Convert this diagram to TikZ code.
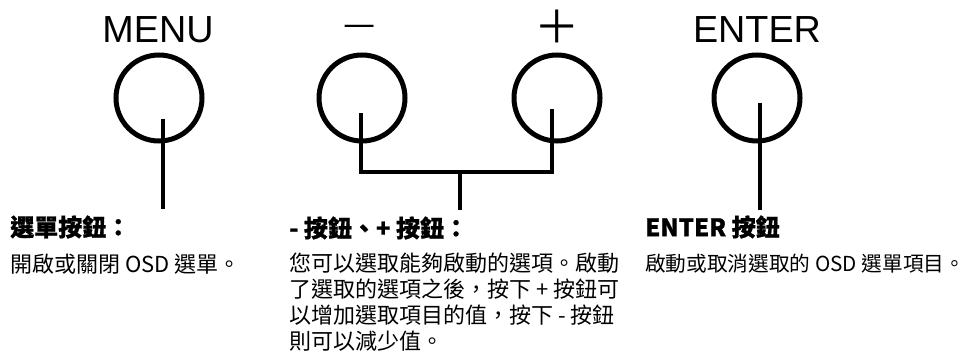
\documentclass[tikz,border=0pt]{standalone}
\usepackage{fontspec}
\setmainfont{Liberation Sans}
\newfontfamily\cjk[BoldFeatures={FakeBold=0.8}]{Noto Sans CJK TC}
\usetikzlibrary{positioning}

\begin{document}
\begin{tikzpicture}
	[x=0.75pt,y=-0.75pt,
	 knob/.style={circle,draw,line width=3.75pt,minimum size=64.5pt,inner sep=0pt},
	 lead/.style={line width=2.3pt},
	 keyname/.style={font=\fontsize{28.3}{30}\selectfont,anchor=base,inner sep=0pt},
	 keysign/.style={font=\cjk\fontsize{27}{30}\selectfont,anchor=base,inner sep=0pt},
	 head/.style={font=\cjk\bfseries\fontsize{18}{20}\selectfont,anchor=west,inner sep=0pt},
	 body/.style={font=\cjk\fontsize{16.5}{19.5}\selectfont,align=left,inner sep=0pt}]

\useasboundingbox (0,0) rectangle (969,352);

	% the four keys
	\foreach \name/\xx in {menu/159,minus/362,plus/557,enter/757}
	{
	 \node[knob] (\name) at (\xx,98) {};
	}

	\node[keyname] (menulabel) at (158,43) {MENU};
	\node[keysign] (minuslabel) at (360,37) {—};
	\node[keysign,font=\cjk\fontsize{34}{36}\selectfont] (pluslabel) at (557,44) {＋};
	\node[keyname] (enterlabel) at (757,43) {ENTER};

	% texts under the keys
	\node[head] (menuhead) at (10,227) {選單按鈕：};
	\node[body,anchor=west] (menutext) at (10,264) {開啟或關閉 OSD 選單。};

	\node[head] (pmhead) at (289,228) {- 按鈕、+ 按鈕：};
	\node[body,anchor=north west] (pmtext) at (289,253)
	 {您可以選取能夠啟動的選項。啟動\\了選取的選項之後，按下 + 按鈕可\\以增加選取項目的值，按下 - 按鈕\\則可以減少值。};

	\node[head] (enterhead) at (645,227) {ENTER 按鈕};
	\node[body,anchor=west,font=\cjk\fontsize{15.5}{19.5}\selectfont] (entertext) at (645,264) {啟動或取消選取的 OSD 選單項目。};

	% leads
	\coordinate (menutip) at ([shift={(4,21)}]menu.center);
	\coordinate (minustip) at ([shift={(-1,15)}]minus.center);
	\coordinate (plustip) at ([shift={(-5,11)}]plus.center);
	\coordinate (entertip) at ([shift={(3,5)}]enter.center);
	\coordinate (pmjoin) at (460,172);

	\draw[lead] (menutip)--(menutip |- 0,209);
	\draw[lead] (minustip) |- (pmjoin) -| (plustip);
	\draw[lead] (pmjoin)--(pmjoin |- 0,210);
	\draw[lead] (entertip)--(entertip |- 0,210);

\end{tikzpicture}
\end{document}
